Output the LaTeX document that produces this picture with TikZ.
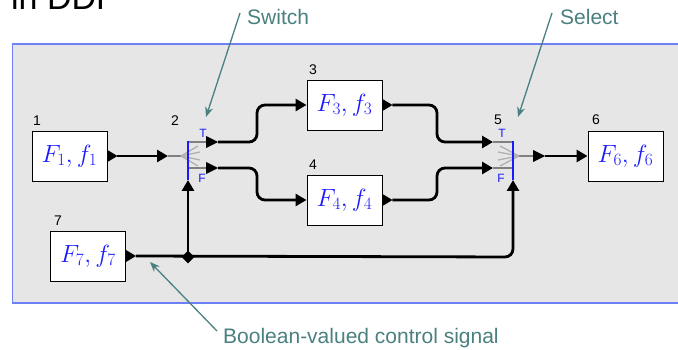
\documentclass[tikz,border=0pt]{standalone}
\usepackage{fontspec}
\setmainfont{Liberation Sans}
\usetikzlibrary{arrows.meta,shapes.geometric,calc}
\definecolor{teal1}{HTML}{4A8080}
\definecolor{panel}{HTML}{E6E6E6}
\definecolor{frameblue}{HTML}{6F80F5}
\definecolor{portblue}{HTML}{1A1AFF}
\definecolor{fan}{HTML}{B0B0B0}
\tikzset{
  actor/.style={draw=black, line width=0.9pt, fill=white, minimum width=75pt, minimum height=50pt, inner sep=0pt, font=\fontsize{26}{26}\selectfont\color{portblue}},
  num/.style={font=\fontsize{14}{14}\selectfont, text=black, inner sep=0pt},
  tf/.style={font=\fontsize{12}{12}\selectfont, text=portblue, inner sep=0pt},
  conn/.style={line width=2.8pt, rounded corners=8pt, -{Triangle[length=11pt,width=12pt]}},
  stub/.style={line width=1.6pt, draw=gray},
  fanline/.style={line width=1.3pt, draw=fan},
  note/.style={draw=teal1, line width=1.3pt, -{Stealth[length=10pt,width=8pt]}},
  notetext/.style={font=\fontsize{21}{21}\selectfont, text=teal1, inner sep=0pt},
}
\begin{document}
\begin{tikzpicture}[x=1pt,y=-1pt]
\useasboundingbox (0,0) rectangle (678,350);
% panel
\fill[panel] (12,44) rectangle (680,303);
\draw[frameblue, line width=1.6pt] (680,44) -- (12.5,44) -- (12.5,303) -- (680,303);
% title (clipped at the top, as in the reference)
\node[anchor=base west, inner sep=0pt, font=\fontsize{34}{34}\selectfont] (title) at (11,10) {in DDF};

% actors
\node[actor] (b1) at (69.5,156) {$F_1, f_1$};
\node[actor] (b3) at (344.5,105) {$F_3, f_3$};
\node[actor] (b4) at (344.5,200) {$F_4, f_4$};
\node[actor] (b6) at (625.5,156) {$F_6, f_6$};
\node[actor] (b7) at (88,256) {$F_7, f_7$};
\node[num] (n1) at (37,121) {1};
\node[num] (n2) at (175,121) {2};
\node[num] (n3) at (313,70) {3};
\node[num] (n4) at (313,165) {4};
\node[num] (n5) at (498,120) {5};
\node[num] (n6) at (596,120) {6};
\node[num] (n7) at (58,221) {7};

% output ports of actors
\coordinate (b1o) at (b1.east);
\coordinate (b3o) at (b3.east);
\coordinate (b4o) at (b4.east);
\coordinate (b7o) at (b7.east);
\fill (b1o) ++(0,-6) -- ++(10,6) -- ++(-10,6) -- cycle;
\fill (b3o) ++(0,-6) -- ++(10,6) -- ++(-10,6) -- cycle;
\fill (b4o) ++(0,-6) -- ++(10,6) -- ++(-10,6) -- cycle;
\fill (b7o) ++(0,-6) -- ++(10,6) -- ++(-10,6) -- cycle;
\coordinate (b1p) at ($(b1o)+(10,0)$);
\coordinate (b3p) at ($(b3o)+(10,0)$);
\coordinate (b4p) at ($(b4o)+(10,0)$);
\coordinate (b7p) at ($(b7o)+(10,0)$);

% switch (2)
\coordinate (swA) at (181,156);
\coordinate (swIn) at (168,156);
\coordinate (swT) at (206,142);
\coordinate (swF) at (206,168);
\coordinate (swC) at (188,180);
\draw[stub] (swIn) -- (swA);
\draw[fanline] (swA) -- (198,146);
\draw[fanline] (swA) -- (200,152);
\draw[fanline] (swA) -- (200,160);
\draw[fanline] (swA) -- (198,166);
\draw[stub] (188,142) -- (swT);
\draw[stub] (188,168) -- (swF);
\draw[portblue, line width=1.3pt] (188,141) -- (swC);
\fill (swT) ++(0,-6) -- ++(12,6) -- ++(-12,6) -- cycle;
\fill (swF) ++(0,-6) -- ++(12,6) -- ++(-12,6) -- cycle;
\node[tf] (swTl) at (203,133) {T};
\node[tf] (swFl) at (202,178) {F};

% select (5)
\coordinate (seA) at (519,156);
\coordinate (seT) at (493,142);
\coordinate (seF) at (493,168);
\coordinate (seC) at (513,180);
\coordinate (seO) at (533,156);
\draw[fanline] (seA) -- (500,146);
\draw[fanline] (seA) -- (498,152);
\draw[fanline] (seA) -- (498,160);
\draw[fanline] (seA) -- (500,166);
\draw[stub] (seT) -- (513,142);
\draw[stub] (seF) -- (513,168);
\draw[stub] (seA) -- (seO);
\draw[portblue, line width=1.3pt] (513,141) -- (seC);
\fill (seO) ++(0,-6) -- ++(12,6) -- ++(-12,6) -- cycle;
\node[tf] (seTl) at (502,133) {T};
\node[tf] (seFl) at (501,178) {F};

% connectors
\draw[conn] (b1p) -- (swIn);
\draw[conn] ($(swT)+(12,0)$) -- (257,142) -- (257,105) -- (b3.west);
\draw[conn] ($(swF)+(12,0)$) -- (257,168) -- (257,200) -- (b4.west);
\draw[conn] (b3p) -- (437,105) -- (437,142) -- (seT);
\draw[conn] (b4p) -- (437,200) -- (437,168) -- (seF);
\draw[conn] ($(seO)+(12,0)$) -- (b6.west);
\coordinate (jn) at (188,257);
\draw[conn] (b7p) -- (513,257) -- (seC);
\draw[conn] (jn) -- (swC);
\node[diamond, fill=black, inner sep=0pt, minimum size=13pt] (jd) at (jn) {};

% annotations
\node[notetext, anchor=base west] (lsw) at (247,25) {Switch};
\node[notetext, anchor=base west] (lse) at (560,25) {Select};
\node[notetext, anchor=base west] (lbo) at (223,343) {Boolean-valued control signal};
\draw[note] (240,13) -- (206,117);
\draw[note] (552,13) -- (518,117);
\draw[note] (217,331) -- (150,262);
\end{tikzpicture}
\end{document}
